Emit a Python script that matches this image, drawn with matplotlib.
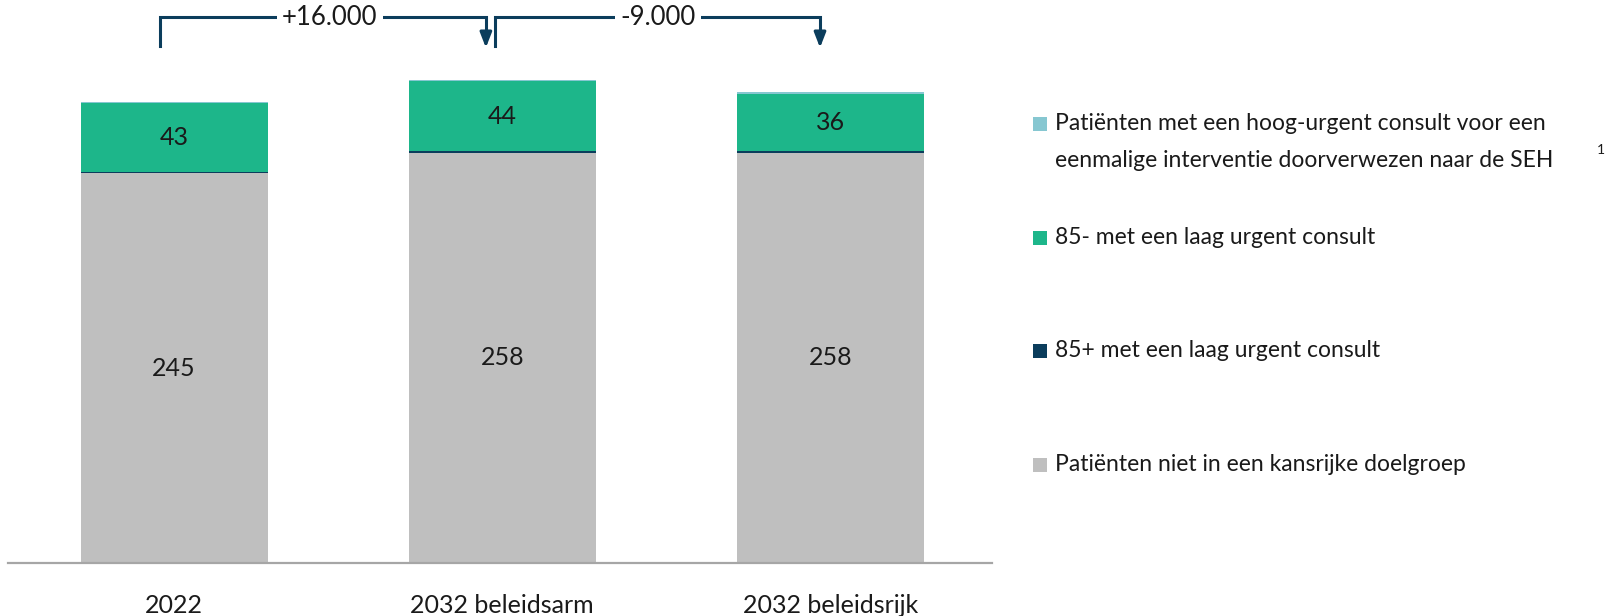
import numpy as np
import matplotlib.pyplot as plt
from matplotlib.patches import Rectangle

plt.rcParams['font.family'] = ['Lato', 'DejaVu Sans']

categories = ["2022", "2032 beleidsarm", "2032 beleidsrijk"]
niet_kansrijk = [245, 258, 258]
laag_85plus = [1, 1, 1]
laag_85min = [43, 44, 36]
hoog_urgent = [1, 1, 1]
delta_labels = ["+16.000", "-9.000"]

legend_labels = [
    "Patiënten met een hoog-urgent consult voor een\neenmalige interventie doorverwezen naar de SEH",
    "85- met een laag urgent consult",
    "85+ met een laag urgent consult",
    "Patiënten niet in een kansrijke doelgroep",
]

c_grey = "#BFBFBF"
c_navy = "#0B3D5C"
c_green = "#1DB68A"
c_light = "#86C7D1"
txt = "#1a1a1a"

W, H = 1612, 616
fig = plt.figure(figsize=(W / 100, H / 100), dpi=100)
ax = fig.add_axes([8 / W, 1 - 563 / H, (992 - 8) / W, 563 / H])

x = np.arange(len(categories))
width = 0.57
b0 = np.zeros(len(x))
for vals, col in [(niet_kansrijk, c_grey), (laag_85plus, c_navy),
                  (laag_85min, c_green), (hoog_urgent, c_light)]:
    ax.bar(x, vals, width, bottom=b0, color=col, linewidth=0)
    b0 = b0 + np.array(vals)

for i in range(len(x)):
    ax.text(x[i], niet_kansrijk[i] / 2, str(niet_kansrijk[i]), ha="center", va="center",
            fontsize=18, color=txt)
    ybase = niet_kansrijk[i] + laag_85plus[i]
    ax.text(x[i], ybase + laag_85min[i] / 2, str(laag_85min[i]), ha="center", va="center",
            fontsize=18, color=txt)

ax.set_xlim(-0.506, 2.492)
ax.set_ylim(0, 354)
ax.set_xticks(x)
ax.set_xticklabels(categories, fontsize=18, color=txt)
ax.tick_params(axis="x", length=0, pad=22)
ax.set_yticks([])
for s in ["top", "right", "left"]:
    ax.spines[s].set_visible(False)
ax.spines["bottom"].set_color("#A6A6A6")
ax.spines["bottom"].set_linewidth(1.6)

# brackets with arrows
y_hi, y_lo = 343, 325
brackets = [(-0.044, 0.950, 0.475, delta_labels[0]), (0.977, 1.968, 1.475, delta_labels[1])]
for xs, xe, xl, lab in brackets:
    ax.plot([xs, xs, xe, xe], [y_lo, y_hi, y_hi, y_lo + 5], color=c_navy, lw=2.2,
            solid_joinstyle="miter", clip_on=False)
    ax.annotate("", xy=(xe, y_lo - 1), xytext=(xe, y_lo + 8),
                arrowprops=dict(arrowstyle="-|>,head_width=0.35,head_length=0.9",
                                color=c_navy, lw=2.2, shrinkA=0, shrinkB=0),
                annotation_clip=False)
    ax.text(xl, y_hi, lab, ha="center", va="center", fontsize=18.5, color=txt,
            bbox=dict(boxstyle="square,pad=0.2", fc="white", ec="none"), clip_on=False)

# legend
leg_cols = [c_light, c_green, c_navy, c_grey]
leg_y = [124, 237.5, 350.6, 464.7]
for col, yy, lab in zip(leg_cols, leg_y, legend_labels):
    fig.add_artist(Rectangle(((1033) / W, 1 - (yy + 7) / H), 14 / W, 14 / H,
                             transform=fig.transFigure, color=col, lw=0))
    fig.text(1055 / W, 1 - (yy - 11) / H, lab, ha="left", va="top", fontsize=16.5,
             color=txt, linespacing=1.95)
fig.text(1597 / W, 1 - 150 / H, "1", ha="left", va="center", fontsize=10, color=txt)

fig.savefig("out.png", dpi=100)
